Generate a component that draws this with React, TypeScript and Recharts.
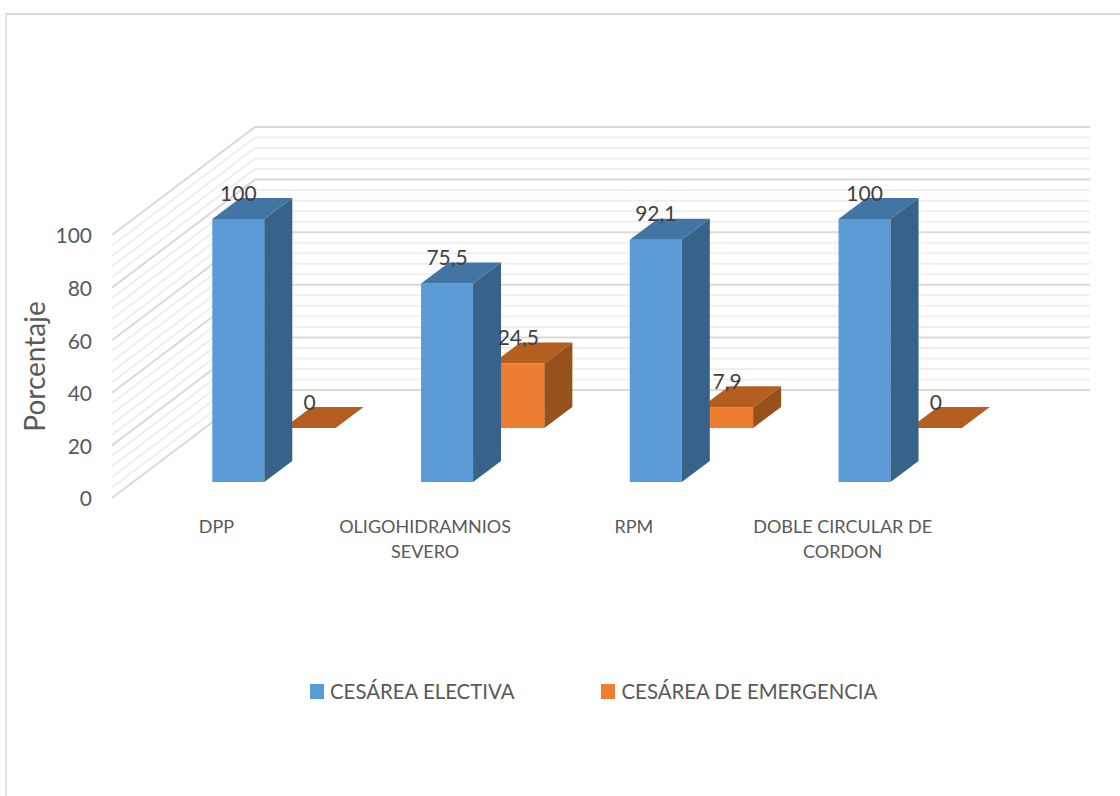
import { Bar, BarChart, CartesianGrid, LabelList, Legend, Text, XAxis, YAxis } from "recharts";

const categories = ["DPP", "OLIGOHIDRAMNIOS SEVERO", "RPM", "DOBLE CIRCULAR DE CORDON"];
const electiva = [100, 75.5, 92.1, 100];
const emergencia = [0, 24.5, 7.9, 0];
const yTicks = [0, 20, 40, 60, 80, 100];
const minorTicks = [4, 8, 12, 16, 24, 28, 32, 36, 44, 48, 52, 56, 64, 68, 72, 76, 84, 88, 92, 96];

const data = categories.map((name, i) => ({ name, electiva: electiva[i], emergencia: emergencia[i] }));

const FONT = "Lato, sans-serif";
const WALL_DX = 143;
const WALL_DY = 108;
const DEPTH_DX = 28;
const DEPTH_DY = 21;

// grid line bent along the side wall and the back wall
function wallLine(stroke: string) {
  return (p: any) => (
    <polyline
      key={p.key ?? p.index}
      points={`${p.x1},${p.y1} ${p.x1 + WALL_DX},${p.y1 - WALL_DY} ${p.x2 + WALL_DX},${p.y2 - WALL_DY}`}
      fill="none"
      stroke={stroke}
      strokeWidth={2}
    />
  );
}

function box(front: string, top: string, side: string, dx: number, dy: number) {
  return (p: any) => {
    const x = p.x + dx;
    const y = p.y + dy;
    const r = x + p.width;
    const b = y + p.height;
    return (
      <g>
        <rect x={x} y={y} width={p.width} height={p.height} fill={front} />
        <polygon points={`${x},${y} ${x + DEPTH_DX},${y - DEPTH_DY} ${r + DEPTH_DX},${y - DEPTH_DY} ${r},${y}`} fill={top} />
        <polygon points={`${r},${y} ${r + DEPTH_DX},${y - DEPTH_DY} ${r + DEPTH_DX},${b - DEPTH_DY} ${r},${b}`} fill={side} />
      </g>
    );
  };
}

function valueLabel(dx: number, dy: number) {
  return (p: any) => (
    <text
      x={p.x + dx + p.width / 2}
      y={p.y + dy - 27}
      textAnchor="middle"
      dominantBaseline="central"
      fontFamily={FONT}
      fontSize={21}
      fill="#404040"
    >
      {String(p.value).replace(".", ",")}
    </text>
  );
}

function CategoryTick({ x, y, payload }: any) {
  return (
    <Text
      x={x}
      y={y - 2}
      width={190}
      textAnchor="middle"
      verticalAnchor="start"
      lineHeight={25}
      fontFamily={FONT}
      fontSize={18}
      fill="#595959"
    >
      {payload.value}
    </Text>
  );
}

function LegendRow({ payload }: any) {
  const items = [...(payload ?? [])].reverse();
  return (
    <div style={{ display: "flex", fontFamily: FONT, fontSize: 20.4, color: "#595959" }}>
      {items.map((item: any, i: number) => (
        <div key={item.value} style={{ display: "flex", alignItems: "center", marginRight: i === 0 ? 87 : 0 }}>
          <span style={{ width: 14, height: 15, background: item.color, marginRight: 6 }} />
          {item.value}
        </div>
      ))}
    </div>
  );
}

export default function App() {
  return (
    <div style={{ position: "absolute", left: 0, top: 0, width: 1120, height: 796, overflow: "hidden", background: "#fff" }}>
      <div
        style={{
          position: "absolute",
          left: 5,
          top: 13,
          width: 1115,
          height: 783,
          borderTop: "2px solid #dcdcdc",
          borderLeft: "2px solid #e4e4e4",
          boxSizing: "border-box",
        }}
      />
      <BarChart
        width={1120}
        height={796}
        data={data}
        margin={{ top: 235, right: 173, bottom: 238, left: 0 }}
        barSize={52}
        barGap={-52}
        style={{ position: "absolute", left: 0, top: 0 }}
      >
        <CartesianGrid vertical={false} horizontalValues={minorTicks} horizontal={wallLine("#efefef")} />
        <CartesianGrid vertical={false} horizontalValues={yTicks} horizontal={wallLine("#d9d9d9")} />
        <XAxis dataKey="name" height={60} axisLine={false} tickLine={false} interval={0} tick={CategoryTick} tickMargin={18} />
        <YAxis
          width={112}
          domain={[0, 100]}
          ticks={yTicks}
          interval={0}
          axisLine={false}
          tickLine={false}
          tickSize={0}
          tickMargin={20}
          tick={{ fontFamily: FONT, fontSize: 21, fill: "#595959", dy: 1 }}
          label={{
            value: "Porcentaje",
            angle: -90,
            position: "insideLeft",
            offset: 35,
            textAnchor: "middle",
            fontFamily: FONT,
            fontSize: 28,
            fill: "#595959",
          }}
        />
        <Legend
          verticalAlign="middle"
          content={LegendRow}
          wrapperStyle={{ top: 679, left: 310, width: 700, height: 28 }}
        />
        <Bar
          dataKey="emergencia"
          name="CESÁREA DE EMERGENCIA"
          fill="#ed7d31"
          isAnimationActive={false}
          shape={box("#ed7d31", "#b45f20", "#97511c", 93.6, -70)}
        >
          <LabelList dataKey="emergencia" content={valueLabel(93.6, -70)} />
        </Bar>
        <Bar
          dataKey="electiva"
          name="CESÁREA ELECTIVA"
          fill="#5b9bd5"
          isAnimationActive={false}
          shape={box("#5b9bd5", "#4275a4", "#37638a", 22.3, -16)}
        >
          <LabelList dataKey="electiva" content={valueLabel(22.3, -16)} />
        </Bar>
      </BarChart>
    </div>
  );
}
